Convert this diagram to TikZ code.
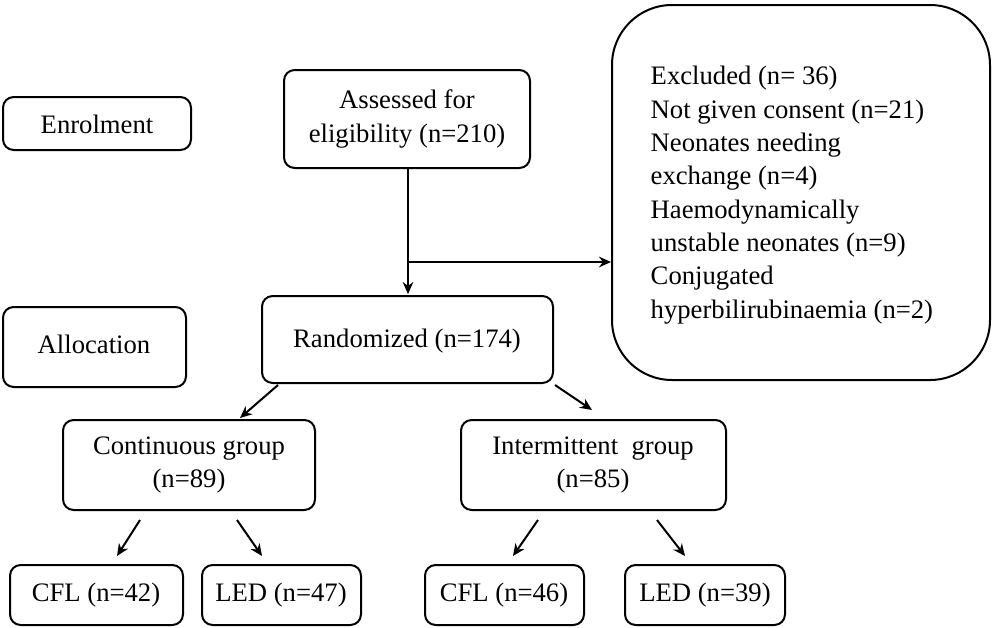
\documentclass[tikz,border=0pt]{standalone}
\usepackage{fontspec}
\setmainfont{Liberation Serif}
\usetikzlibrary{arrows.meta}
\begin{document}
\begin{tikzpicture}[x=0.75pt,y=-0.75pt,
 box/.style={draw,line width=1.5pt,rounded corners=8pt},
 lab/.style={font=\fontsize{20}{25}\selectfont,align=center},
 arr/.style={line width=1.5pt,-{Stealth[length=9pt,width=8pt]}}]
\useasboundingbox (0,0) rectangle (993,628);
\draw[box] (3,97) rectangle (191,150); \node[lab] (en) at (97,124) {Enrolment};
\draw[box] (284,70) rectangle (530,168); \node[lab] (as) at (407,119) {Assessed for\\eligibility (n=210)};
\draw[box,rounded corners=45pt] (612,5) rectangle (990,380);
\node[lab,align=left,anchor=west] (ex) at (646,195) {Excluded (n= 36)\\Not given consent (n=21)\\Neonates needing\\exchange (n=4)\\Haemodynamically\\unstable neonates (n=9)\\Conjugated\\hyperbilirubinaemia (n=2)};
\draw[box] (3,307) rectangle (186,387); \node[lab] (al) at (94,344) {Allocation};
\draw[box] (262,296) rectangle (553,383); \node[lab] (ra) at (407,341) {Randomized (n=174)};
\draw[box] (63,420) rectangle (315,510); \node[lab] (cg) at (189,465) {Continuous group\\(n=89)};
\draw[box] (461,420) rectangle (726,510); \node[lab] (ig) at (593,465) {Intermittent\ \ group\\(n=85)};
\draw[box] (10,565) rectangle (183,625); \node[lab] (c1) at (96,595) {CFL (n=42)};
\draw[box] (202,565) rectangle (361,625); \node[lab] (l1) at (281,595) {LED (n=47)};
\draw[box] (425,565) rectangle (584,625); \node[lab] (c2) at (504,595) {CFL (n=46)};
\draw[box] (625,565) rectangle (785,625); \node[lab] (l2) at (705,595) {LED (n=39)};
\coordinate (t1) at (408,168); \coordinate (t2) at (408,294);
\coordinate (br) at (408,262); \coordinate (exl) at (611,262);
\draw[arr] (t1) -- (t2);
\draw[arr] (br) -- (exl);
\coordinate (a1) at (278,385); \coordinate (a2) at (240,418);
\coordinate (a3) at (555,385); \coordinate (a4) at (592,410);
\draw[arr] (a1) -- (a2); \draw[arr] (a3) -- (a4);
\coordinate (b1) at (140,520); \coordinate (b2) at (117,556);
\coordinate (b3) at (237,520); \coordinate (b4) at (262,556);
\coordinate (b5) at (538,520); \coordinate (b6) at (513,556);
\coordinate (b7) at (657,520); \coordinate (b8) at (685,556);
\draw[arr] (b1) -- (b2); \draw[arr] (b3) -- (b4);
\draw[arr] (b5) -- (b6); \draw[arr] (b7) -- (b8);
\end{tikzpicture}
\end{document}
